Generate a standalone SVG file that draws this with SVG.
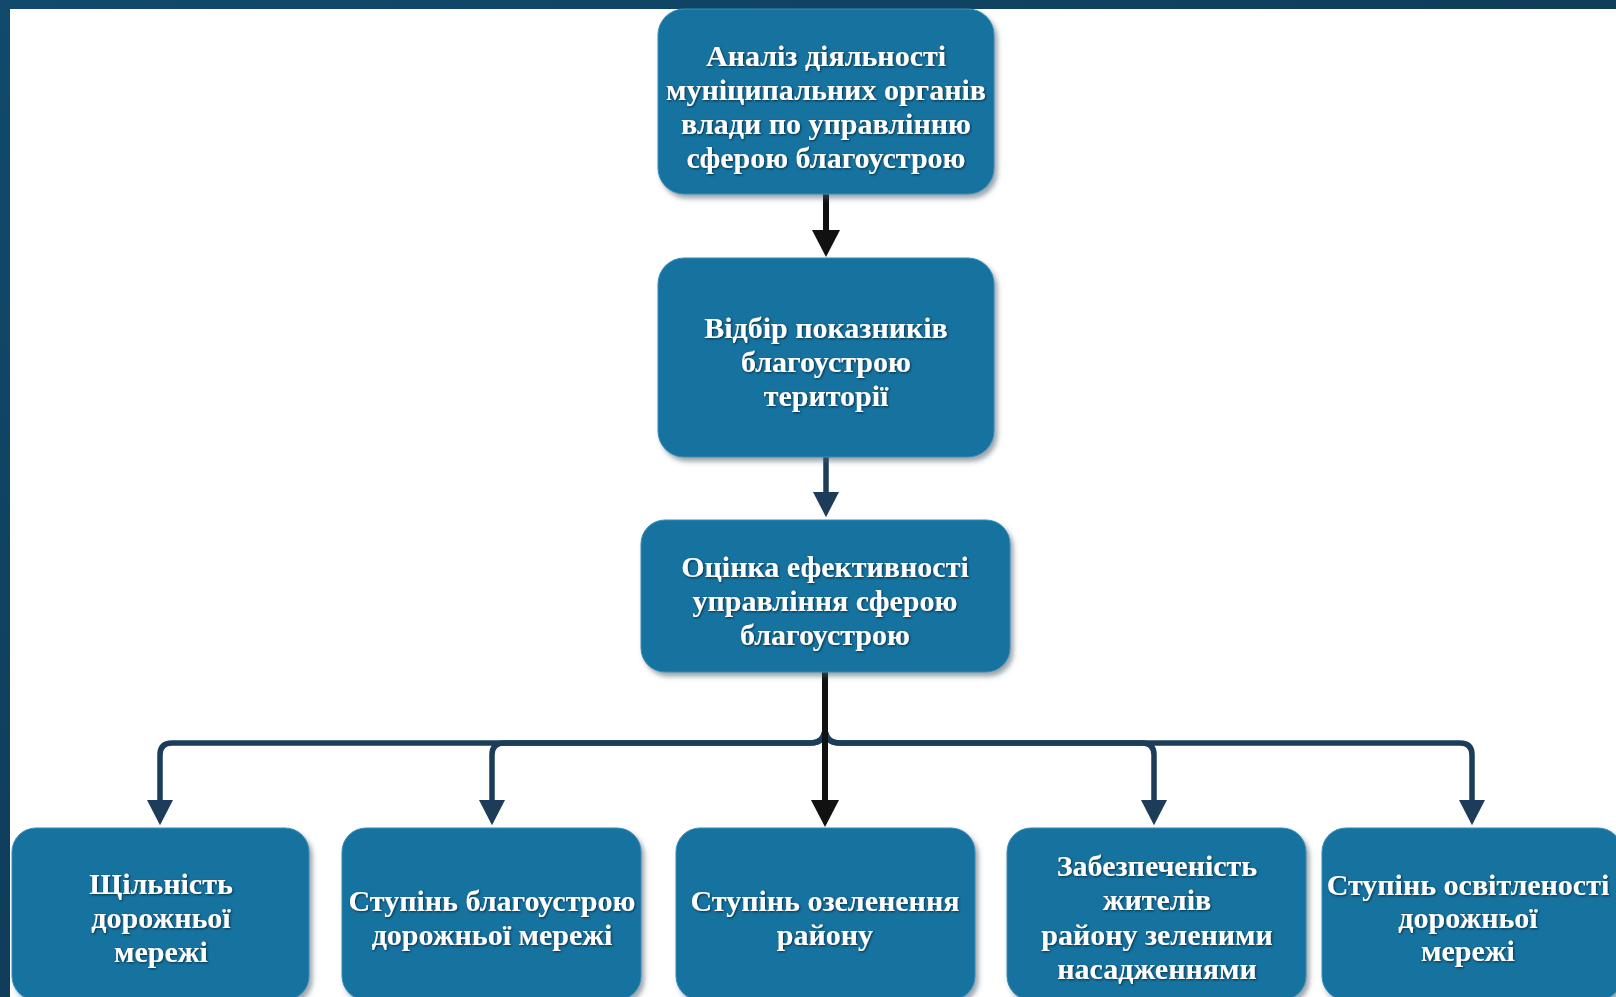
<svg xmlns="http://www.w3.org/2000/svg" width="1616" height="997" viewBox="0 0 1616 997">
<defs>
<linearGradient id="bg" x1="0" y1="0" x2="1" y2="1">
<stop offset="0" stop-color="#114a6c"/>
<stop offset="0.5" stop-color="#0f3d5a"/>
<stop offset="1" stop-color="#0c2f48"/>
</linearGradient>
<filter id="boxsh" x="-10%" y="-10%" width="125%" height="130%">
<feDropShadow dx="3" dy="4" stdDeviation="2.5" flood-color="#4a5a68" flood-opacity="0.55"/>
</filter>
<filter id="txtsh" x="-5%" y="-20%" width="110%" height="140%">
<feDropShadow dx="1" dy="1" stdDeviation="1.2" flood-color="#06263a" flood-opacity="0.9"/>
</filter>
<marker id="ahBlack" viewBox="0 0 28 28" markerUnits="userSpaceOnUse" markerWidth="28" markerHeight="28" refX="1" refY="14" orient="auto">
<path d="M0,0 L27,14 L0,28 Z" fill="#111111"/>
</marker>
<marker id="ahNavy" viewBox="0 0 28 28" markerUnits="userSpaceOnUse" markerWidth="26" markerHeight="26" refX="1" refY="14" orient="auto">
<path d="M0,0 L27,14 L0,28 Z" fill="#1d3c5a"/>
</marker>
</defs>
<style>
.box{fill:#15729f;stroke:#3a8cb7;stroke-width:1;filter:url(#boxsh)}
.t{font-family:"Liberation Serif","Times New Roman",serif;font-weight:bold;font-size:30px;fill:#ffffff;text-anchor:middle;dominant-baseline:central}
.blk{fill:none;stroke:#111111;stroke-width:6}
.nav{fill:none;stroke:#1d3c5a;stroke-width:5.5}
</style>
<rect x="0" y="0" width="1616" height="997" fill="url(#bg)"/>
<rect x="10" y="9" width="1606" height="988" fill="#ffffff"/>

<g id="connectors">
<path class="blk" d="M826,194 V231" marker-end="url(#ahBlack)"/>
<path class="nav" d="M826,457 V493" marker-end="url(#ahNavy)"/>
<path class="nav" d="M825,728 Q825,743 810,743 H172 Q160,743 160,755 V801" marker-end="url(#ahNavy)"/>
<path class="nav" d="M825,728 Q825,743 810,743 H504 Q492,743 492,755 V801" marker-end="url(#ahNavy)"/>
<path class="nav" d="M825,728 Q825,743 840,743 H1142 Q1154,743 1154,755 V801" marker-end="url(#ahNavy)"/>
<path class="nav" d="M825,728 Q825,743 840,743 H1460 Q1472,743 1472,755 V801" marker-end="url(#ahNavy)"/>
<path class="blk" d="M825,672 V801" marker-end="url(#ahBlack)"/>
</g>

<g id="n1">
<rect class="box" x="658" y="9" width="336" height="185" rx="26"/>
<g filter="url(#txtsh)">
<text class="t" x="826" y="55">Аналіз діяльності</text>
<text class="t" x="826" y="89">муніципальних органів</text>
<text class="t" x="826" y="123">влади по управлінню</text>
<text class="t" x="826" y="157">сферою благоустрою</text>
</g>
</g>

<g id="n2">
<rect class="box" x="658" y="258" width="336" height="199" rx="26"/>
<g filter="url(#txtsh)">
<text class="t" x="826" y="327">Відбір показників</text>
<text class="t" x="826" y="361">благоустрою</text>
<text class="t" x="826" y="395">території</text>
</g>
</g>

<g id="n3">
<rect class="box" x="641" y="520" width="369" height="152" rx="24"/>
<g filter="url(#txtsh)">
<text class="t" x="825" y="566">Оцінка ефективності</text>
<text class="t" x="825" y="600">управління сферою</text>
<text class="t" x="825" y="634">благоустрою</text>
</g>
</g>

<g id="n4">
<rect class="box" x="12" y="828" width="297" height="172" rx="24"/>
<g filter="url(#txtsh)">
<text class="t" x="161" y="883">Щільність</text>
<text class="t" x="161" y="917">дорожньої</text>
<text class="t" x="161" y="951">мережі</text>
</g>
</g>

<g id="n5">
<rect class="box" x="342" y="828" width="299" height="172" rx="24"/>
<g filter="url(#txtsh)">
<text class="t" x="492" y="900">Ступінь благоустрою</text>
<text class="t" x="492" y="934">дорожньої мережі</text>
</g>
</g>

<g id="n6">
<rect class="box" x="676" y="828" width="299" height="172" rx="24"/>
<g filter="url(#txtsh)">
<text class="t" x="825" y="900">Ступінь озеленення</text>
<text class="t" x="825" y="934">району</text>
</g>
</g>

<g id="n7">
<rect class="box" x="1007" y="828" width="299" height="172" rx="24"/>
<g filter="url(#txtsh)">
<text class="t" x="1157" y="865">Забезпеченість</text>
<text class="t" x="1157" y="899">жителів</text>
<text class="t" x="1157" y="934">району зеленими</text>
<text class="t" x="1157" y="968">насадженнями</text>
</g>
</g>

<g id="n8">
<rect class="box" x="1322" y="828" width="300" height="172" rx="24"/>
<g filter="url(#txtsh)">
<text class="t" x="1468" y="884">Ступінь освітленості</text>
<text class="t" x="1468" y="917">дорожньої</text>
<text class="t" x="1468" y="950">мережі</text>
</g>
</g>
</svg>
